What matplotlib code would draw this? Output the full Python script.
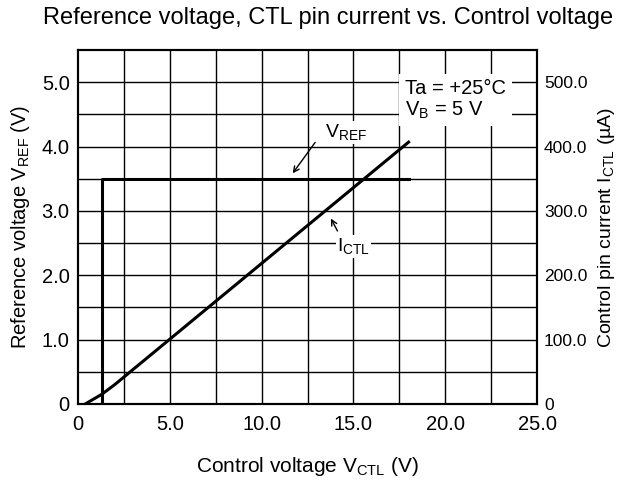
import matplotlib
matplotlib.use("Agg")
from matplotlib import pyplot as plt
import numpy as np

plt.rcParams['font.family'] = ['Liberation Sans', 'DejaVu Sans']
plt.rcParams['mathtext.fontset'] = 'custom'
plt.rcParams['mathtext.rm'] = 'Liberation Sans'
plt.rcParams['mathtext.it'] = 'Liberation Sans:italic'

# VREF step curve (V vs V)
vref_x = [1.3, 1.3, 18.0]
vref_y = [0.0, 3.5, 3.5]

# ICTL curve (uA vs V)
ictl_x = [0.4, 1.3, 2.0, 18.0]
ictl_y = [0.0, 15.0, 30.0, 407.0]

x_ticks = [0, 5, 10, 15, 20, 25]
x_labels = ["0", "5.0", "10.0", "15.0", "20.0", "25.0"]
yl_ticks = [0, 1, 2, 3, 4, 5]
yl_labels = ["0", "1.0", "2.0", "3.0", "4.0", "5.0"]
yr_ticks = [0, 100, 200, 300, 400, 500]
yr_labels = ["0", "100.0", "200.0", "300.0", "400.0", "500.0"]

fig = plt.figure(figsize=(6.29, 4.82), dpi=100)
ax = fig.add_axes([0.124, 0.162, 0.730, 0.734])
ax2 = ax.twinx()

ax.set_xlim(0, 25)
ax.set_ylim(0, 5.5)
ax2.set_ylim(0, 550)

# grid
for gx in np.arange(2.5, 25, 2.5):
    ax.axvline(gx, color="black", lw=1.0, zorder=1)
for gy in np.arange(0.5, 5.5, 0.5):
    ax.axhline(gy, color="black", lw=1.0, zorder=1)

ax.plot(vref_x, vref_y, color="black", lw=2.2, zorder=3)
ax2.plot(ictl_x, ictl_y, color="black", lw=2.2, zorder=3)

ax.set_xticks(x_ticks)
ax.set_xticklabels(x_labels, fontsize=14.5)
ax.set_yticks(yl_ticks)
ax.set_yticklabels(yl_labels, fontsize=14.5)
ax2.set_yticks(yr_ticks)
ax2.set_yticklabels(yr_labels, fontsize=12.5)
ax.tick_params(axis="x", length=0, pad=8)
ax.tick_params(axis="y", length=0, pad=6)
ax2.tick_params(length=0, pad=5)

for a in (ax, ax2):
    for s in a.spines.values():
        s.set_linewidth(1.5)

ax.set_xlabel(r"Control voltage V$_{\mathregular{CTL}}$ (V)", fontsize=15, labelpad=15)
ax.set_ylabel(r"Reference voltage V$_{\mathregular{REF}}$ (V)", fontsize=14.5, labelpad=7)
ax2.set_ylabel(r"Control pin current I$_{\mathregular{CTL}}$ (µA)", fontsize=14, labelpad=6)
fig.suptitle("Reference voltage, CTL pin current vs. Control voltage", fontsize=17,
             x=0.521, y=0.985)

# condition box
ax.text(17.8, 4.73, "Ta = +25°C\n" + r"V$_{\mathregular{B}}$ = 5 V", fontsize=14.5,
        ha="left", va="center", linespacing=1.1, zorder=4,
        bbox=dict(facecolor="white", edgecolor="none", pad=4))

# VREF label with arrow
ax.annotate("", xy=(11.6, 3.55), xytext=(13.0, 4.1),
            arrowprops=dict(arrowstyle="->", color="black", lw=1), zorder=4)
ax.text(14.6, 4.22, r"V$_{\mathregular{REF}}$", fontsize=14, ha="center", va="center",
        zorder=4, bbox=dict(facecolor="white", edgecolor="none", pad=1))

# ICTL label with arrow
ax.annotate("", xy=(13.7, 2.92), xytext=(14.2, 2.65),
            arrowprops=dict(arrowstyle="->", color="black", lw=1), zorder=4)
ax.text(15.0, 2.45, r"I$_{\mathregular{CTL}}$", fontsize=14, ha="center", va="center",
        zorder=4, bbox=dict(facecolor="white", edgecolor="none", pad=1))

fig.savefig("out.png", dpi=100)
